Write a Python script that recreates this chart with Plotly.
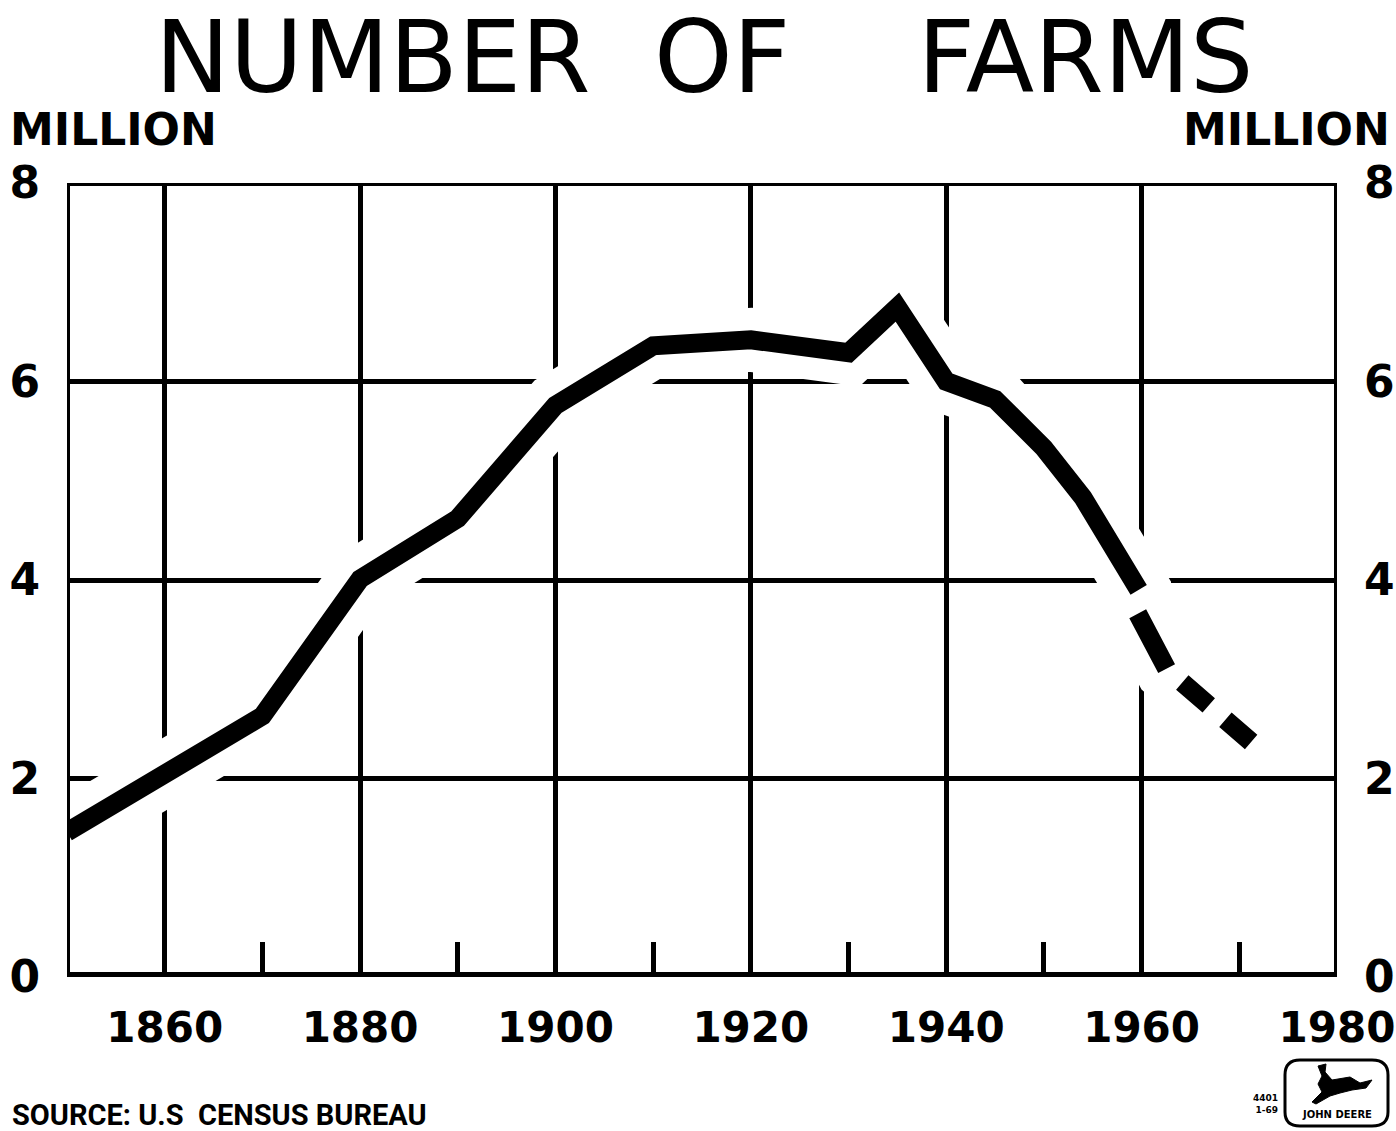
import plotly.graph_objects as go

# ---- data ----
years_solid = [1850, 1860, 1870, 1880, 1890, 1900, 1910, 1920, 1930, 1935, 1940, 1945, 1950, 1954, 1959.7]
farms_solid = [1.46, 2.05, 2.63, 4.01, 4.62, 5.76, 6.36, 6.42, 6.29, 6.75, 6.00, 5.82, 5.33, 4.83, 3.90]
years_proj = [1959.6, 1962.6, 1971.3]
farms_proj = [3.66, 3.10, 2.36]

x_ticks = [1860, 1880, 1900, 1920, 1940, 1960, 1980]
x_minor = [1870, 1890, 1910, 1930, 1950, 1970]
y_ticks = [0, 2, 4, 6, 8]

W, H = 1396, 1131
L, R, T, B = 67, 59, 183, 154
PW, PH = W - L - R, H - T - B


def px_x(px):
    return (px - L) / PW


def px_y(py):
    return (H - B - py) / PH


FONT = "DejaVu Sans"

fig = go.Figure()

# white halo under the curve (creates the gaps in the grid)
fig.add_trace(go.Scatter(
    x=years_solid + years_proj, y=farms_solid + farms_proj,
    mode="lines", line=dict(color="white", width=64),
    hoverinfo="skip"))

fig.add_trace(go.Scatter(
    x=years_solid, y=farms_solid, mode="lines",
    line=dict(color="black", width=19), hoverinfo="skip"))

fig.add_trace(go.Scatter(
    x=years_proj, y=farms_proj, mode="lines",
    line=dict(color="black", width=19, dash="62px,21px,35px,22px,34px"),
    hoverinfo="skip"))

# invisible trace for the right-hand axis
fig.add_trace(go.Scatter(x=[1850], y=[0], yaxis="y2", mode="markers",
                         marker=dict(opacity=0), hoverinfo="skip"))

tickfont = dict(family=FONT, size=44, color="black", weight="bold")
xtickfont = dict(family=FONT, size=42, color="black", weight="bold")

fig.update_layout(
    width=W, height=H,
    margin=dict(l=L, r=R, t=T, b=B, autoexpand=False),
    paper_bgcolor="white", plot_bgcolor="white",
    showlegend=False,
    font=dict(family=FONT, color="black"),
    xaxis=dict(
        range=[1850, 1980], tickmode="array", tickvals=x_ticks,
        ticktext=[str(v) for v in x_ticks], tickfont=xtickfont,
        showgrid=True, gridcolor="black", gridwidth=4.5,
        zeroline=False, showline=False, ticks="", automargin=False,
        ticklabelstandoff=22, ticklabeloverflow="allow",
        minor=dict(tickmode="array", tickvals=x_minor, ticks="inside",
                   ticklen=35, tickwidth=4.5, tickcolor="black",
                   showgrid=False),
    ),
    yaxis=dict(
        range=[0, 8], tickmode="array", tickvals=y_ticks,
        ticktext=[str(v) for v in y_ticks], tickfont=tickfont,
        showgrid=True, gridcolor="black", gridwidth=4.5,
        zeroline=False, showline=False, ticks="", automargin=False,
        ticklabelstandoff=26, ticklabeloverflow="allow",
    ),
    yaxis2=dict(
        range=[0, 8], tickmode="array", tickvals=y_ticks,
        ticktext=[str(v) for v in y_ticks], tickfont=tickfont,
        overlaying="y", side="right", automargin=False,
        showgrid=False, zeroline=False, showline=False, ticks="",
        ticklabelstandoff=26, ticklabeloverflow="allow",
    ),
)

# frame
fig.add_shape(type="rect", xref="x", yref="y", x0=1850, x1=1980, y0=0, y1=8,
              line=dict(color="black", width=6), layer="above")
fig.add_shape(type="line", xref="x", yref="y", x0=1850, x1=1980, y0=0, y1=0,
              line=dict(color="black", width=10), layer="above")

# texts
fig.add_annotation(text="NUMBER\u00a0\u00a0OF\u00a0\u00a0\u00a0\u00a0FARMS",
                   xref="paper", yref="paper", x=px_x(705), y=px_y(14),
                   xanchor="center", yanchor="top", valign="middle",
                   height=82, showarrow=False,
                   font=dict(family=FONT, size=100, color="black"))
fig.add_annotation(text="MILLION", xref="paper", yref="paper",
                   x=px_x(113), y=px_y(129), xanchor="center", yanchor="middle",
                   showarrow=False,
                   font=dict(family=FONT, size=44, color="black", weight="bold"))
fig.add_annotation(text="MILLION", xref="paper", yref="paper",
                   x=px_x(1286), y=px_y(129), xanchor="center", yanchor="middle",
                   showarrow=False,
                   font=dict(family=FONT, size=44, color="black", weight="bold"))
fig.add_annotation(text="SOURCE: U.S\u00a0\u00a0CENSUS BUREAU", xref="paper", yref="paper",
                   x=px_x(10), y=px_y(1115), xanchor="left", yanchor="middle",
                   showarrow=False,
                   font=dict(family="Roboto", size=29, color="black", weight="bold"))

# logo (John Deere style emblem)
fig.add_shape(type="path", xref="paper", yref="paper",
              path=("M {a},{b} Q {c},{d} {e},{d} L {f},{d} Q {g},{d} {g},{b} "
                    "L {g},{h} Q {g},{i} {f},{i} L {e},{i} Q {c},{i} {a},{h} Z").format(
                  a=px_x(1285), b=px_y(1075), c=px_x(1285), d=px_y(1060),
                  e=px_x(1300), f=px_x(1372), g=px_x(1388),
                  h=px_y(1112), i=px_y(1126)),
              line=dict(color="black", width=3), fillcolor="rgba(0,0,0,0)")
deer = [(1318, 1066), (1326, 1064), (1325, 1072), (1332, 1080), (1350, 1077),
        (1360, 1083), (1372, 1080), (1366, 1088), (1352, 1090), (1340, 1093),
        (1330, 1096), (1316, 1104), (1312, 1102), (1322, 1092), (1318, 1084),
        (1322, 1076)]
deer_path = "M " + " L ".join(f"{px_x(a)},{px_y(b)}" for a, b in deer) + " Z"
fig.add_shape(type="path", xref="paper", yref="paper", path=deer_path,
              line=dict(color="black", width=1), fillcolor="black")
fig.add_annotation(text="JOHN DEERE", xref="paper", yref="paper",
                   x=px_x(1337), y=px_y(1114), xanchor="center", yanchor="middle",
                   showarrow=False,
                   font=dict(family=FONT, size=10, color="black", weight="bold"))
fig.add_annotation(text="4401<br>1-69", xref="paper", yref="paper",
                   x=px_x(1280), y=px_y(1104), xanchor="right", yanchor="middle",
                   showarrow=False, align="right",
                   font=dict(family=FONT, size=9, color="black", weight="bold"))

fig.write_html("out.html", config={"displayModeBar": False},
               post_script="document.body.style.margin='0';document.body.style.padding='0';document.body.style.overflow='hidden';")
